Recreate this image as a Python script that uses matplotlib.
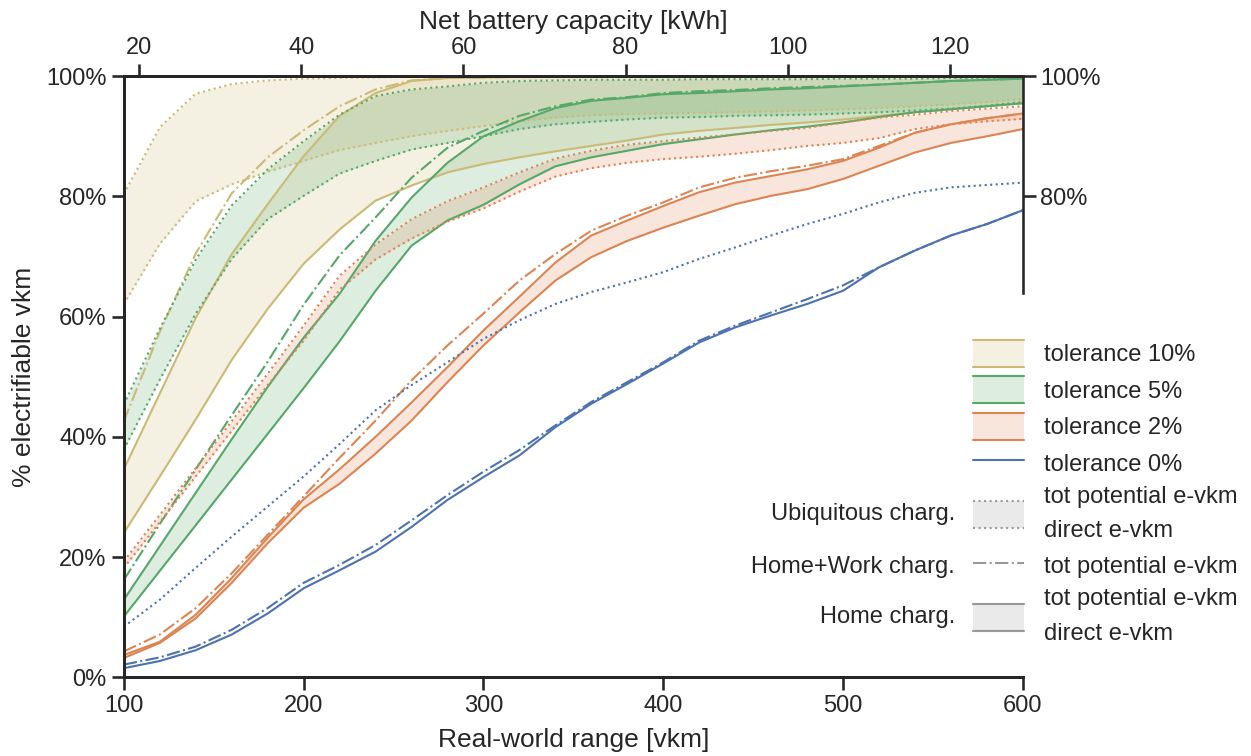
import matplotlib
matplotlib.use("Agg")
import matplotlib.pyplot as plt
import seaborn as sns
from matplotlib.ticker import PercentFormatter
from matplotlib.legend_handler import HandlerBase
from matplotlib.patches import Rectangle
from matplotlib.lines import Line2D

sns.set_theme(context="talk", style="ticks")
plt.rcParams["font.family"] = ["Liberation Sans", "DejaVu Sans"]

# --- data: share of electrifiable vkm [%] vs real-world range [vkm] ---
range_vkm = [100, 120, 140, 160, 180, 200, 220, 240, 260, 280, 300, 320, 340,
             360, 380, 400, 420, 440, 460, 480, 500, 520, 540, 560, 580, 600]

# top axis: net battery capacity equivalent of the range axis limits
battery_kwh_lim = (18.1, 129.0)
battery_ticks = [20, 40, 60, 80, 100, 120]

# tolerance 10%
ubiq_tot_10 = [80.4, 91.5, 97.1, 98.7, 99.3, 99.6, 99.7, 99.8, 99.9, 99.9, 99.9, 100, 100,
               100, 100, 100, 100, 100, 100, 100, 100, 100, 100, 100, 100, 100]
ubiq_dir_10 = [62.1, 72.1, 79.2, 82.0, 84.1, 85.9, 87.7, 88.9, 90.0, 90.9, 91.7, 92.5, 93.1,
               93.5, 93.7, 93.8, 93.9, 94.0, 94.1, 94.3, 94.5, 94.7, 95.0, 95.3, 95.7, 96.2]
hw_tot_10 = [42.6, 57.5, 70.5, 80.5, 86.5, 91.0, 95.0, 97.8, 99.3, 99.7, 99.8, 99.9, 99.9,
             100, 100, 100, 100, 100, 100, 100, 100, 100, 100, 100, 100, 100]
home_tot_10 = [34.6, 47.2, 59.8, 70.4, 78.7, 86.7, 93.4, 97.2, 99.2, 99.7, 99.8, 99.9, 99.9,
               100, 100, 100, 100, 100, 100, 100, 100, 100, 100, 100, 100, 100]
home_dir_10 = [24.0, 33.4, 42.9, 52.8, 61.3, 68.8, 74.5, 79.3, 81.8, 84.0, 85.4, 86.5, 87.5,
               88.4, 89.3, 90.3, 90.9, 91.4, 91.9, 92.3, 92.8, 93.4, 94.0, 94.5, 95.0, 95.5]

# tolerance 5%
ubiq_tot_5 = [45.4, 58.0, 69.5, 78.5, 84.5, 89.2, 93.6, 96.7, 97.8, 98.3, 98.9, 99.2, 99.3,
              99.4, 99.4, 99.4, 99.5, 99.5, 99.5, 99.5, 99.6, 99.6, 99.6, 99.7, 99.7, 99.7]
ubiq_dir_5 = [37.9, 49.5, 60.5, 69.6, 76.2, 80.1, 83.8, 85.9, 87.8, 88.9, 90.0, 91.2, 92.0,
              92.4, 92.8, 93.1, 93.2, 93.4, 93.5, 93.6, 93.8, 94.0, 94.3, 94.6, 95.1, 95.7]
hw_tot_5 = [16.2, 25.5, 34.6, 43.6, 52.5, 62.0, 70.2, 76.5, 83.1, 88.1, 90.9, 93.4, 95.0,
            96.1, 96.5, 97.2, 97.5, 97.7, 98.0, 98.2, 98.4, 98.6, 98.9, 99.2, 99.4, 99.6]
home_tot_5 = [12.9, 21.8, 30.7, 39.6, 48.3, 56.5, 63.8, 72.6, 79.8, 85.6, 90.0, 92.5, 94.7,
              95.9, 96.4, 97.0, 97.2, 97.5, 97.8, 98.0, 98.3, 98.6, 98.9, 99.2, 99.4, 99.6]
home_dir_5 = [10.1, 17.7, 25.3, 32.9, 40.5, 48.1, 55.9, 64.3, 71.8, 76.0, 78.6, 82.0, 85.0,
              86.5, 87.6, 88.7, 89.5, 90.3, 91.0, 91.6, 92.3, 93.2, 94.0, 94.5, 95.0, 95.5]

# tolerance 2%
ubiq_tot_2 = [19.3, 27.0, 34.8, 42.6, 50.5, 58.5, 66.8, 72.0, 76.2, 79.2, 81.5, 84.0, 86.3,
              87.6, 88.6, 89.2, 89.8, 90.3, 90.9, 91.4, 92.3, 93.1, 93.6, 94.2, 94.6, 95.0]
ubiq_dir_2 = [18.2, 25.8, 33.4, 41.0, 48.6, 56.0, 64.5, 69.5, 73.0, 75.8, 78.0, 80.8, 83.3,
              84.7, 85.6, 86.2, 86.6, 87.1, 87.7, 88.4, 88.9, 89.7, 91.2, 92.0, 92.5, 92.9]
hw_tot_2 = [4.3, 7.1, 11.5, 17.3, 23.7, 30.1, 36.5, 42.7, 49.4, 55.2, 60.5, 66.0, 70.4,
            74.3, 76.8, 79.0, 81.5, 83.1, 84.2, 85.1, 86.2, 88.4, 90.6, 92.0, 93.0, 93.8]
home_tot_2 = [3.7, 5.9, 10.4, 16.5, 23.2, 29.6, 34.6, 40.0, 45.7, 51.6, 57.7, 63.3, 69.0,
              73.5, 76.0, 78.4, 80.7, 82.3, 83.4, 84.5, 85.9, 88.1, 90.6, 92.0, 93.0, 93.8]
home_dir_2 = [3.2, 5.7, 9.8, 15.7, 22.3, 28.2, 32.2, 37.2, 42.7, 49.1, 55.2, 60.7, 66.0,
              69.9, 72.6, 74.8, 76.8, 78.7, 80.1, 81.2, 82.9, 85.1, 87.3, 88.9, 90.0, 91.2]

# tolerance 0% (tot = direct)
ubiq_0 = [8.4, 12.9, 18.2, 23.4, 28.4, 33.4, 38.8, 44.4, 48.6, 52.4, 56.3, 59.4, 62.1,
          64.1, 65.7, 67.4, 69.6, 71.5, 73.5, 75.4, 77.1, 79.0, 80.6, 81.5, 81.9, 82.3]
hw_0 = [2.1, 3.3, 5.1, 7.9, 11.5, 15.7, 18.7, 22.0, 26.1, 30.3, 34.2, 37.8, 41.9,
        45.8, 49.1, 52.4, 56.0, 58.5, 60.7, 62.9, 65.2, 68.2, 71.0, 73.5, 75.4, 77.7]
home_0 = [1.5, 2.7, 4.5, 7.1, 10.6, 14.8, 17.8, 20.9, 25.0, 29.5, 33.3, 36.9, 41.6,
          45.5, 48.8, 52.2, 55.7, 58.2, 60.2, 62.1, 64.3, 68.2, 71.0, 73.5, 75.4, 77.7]

TAN, GREEN, ORANGE, BLUE = "#CCB974", "#55A868", "#DD8452", "#4C72B0"
GREY = "#999999"
LW = 1.5

bands = [
    ("tolerance 10%", TAN, home_tot_10, home_dir_10, hw_tot_10, ubiq_tot_10, ubiq_dir_10),
    ("tolerance 5%", GREEN, home_tot_5, home_dir_5, hw_tot_5, ubiq_tot_5, ubiq_dir_5),
    ("tolerance 2%", ORANGE, home_tot_2, home_dir_2, hw_tot_2, ubiq_tot_2, ubiq_dir_2),
]


class Band:
    def __init__(self, color, ls):
        self.color = color
        self.ls = ls


class BandHandler(HandlerBase):
    # light filled box with a line on its upper and lower edge
    def create_artists(self, legend, orig_handle, xdescent, ydescent,
                       width, height, fontsize, trans):
        x0, y0 = -xdescent, -ydescent
        rect = Rectangle((x0, y0), width, height, facecolor=orig_handle.color,
                         alpha=0.2, lw=0, transform=trans)
        edges = [Line2D([x0, x0 + width], [y, y], color=orig_handle.color,
                        ls=orig_handle.ls, lw=LW, transform=trans)
                 for y in (y0, y0 + height)]
        return [rect] + edges


fig = plt.figure(figsize=(12.51, 7.56), dpi=100)
ax = fig.add_axes([0.0990, 0.1042, 0.7186, 0.7950])

for label, color, home_tot, home_dir, hw_tot, ubiq_tot, ubiq_dir in bands:
    ax.fill_between(range_vkm, home_dir, home_tot, color=color, alpha=0.2, lw=0)
    ax.fill_between(range_vkm, ubiq_dir, ubiq_tot, color=color, alpha=0.2, lw=0)
    ax.plot(range_vkm, home_tot, color=color, lw=LW)
    ax.plot(range_vkm, home_dir, color=color, lw=LW)
    ax.plot(range_vkm, hw_tot, color=color, lw=LW, ls="-.")
    ax.plot(range_vkm, ubiq_tot, color=color, lw=LW, ls=":")
    ax.plot(range_vkm, ubiq_dir, color=color, lw=LW, ls=":")

ax.plot(range_vkm, home_0, color=BLUE, lw=LW)
ax.plot(range_vkm, hw_0, color=BLUE, lw=LW, ls="-.")
ax.plot(range_vkm, ubiq_0, color=BLUE, lw=LW, ls=":")

ax.set_xlim(100, 600)
ax.set_ylim(0, 100)
ax.set_xticks([100, 200, 300, 400, 500, 600])
ax.yaxis.set_major_formatter(PercentFormatter(100, decimals=0))
ax.tick_params(labelsize=17)
ax.set_xlabel("Real-world range [vkm]", fontsize=19, labelpad=8)
ax.set_ylabel("% electrifiable vkm", fontsize=19, labelpad=7)
ax.spines["right"].set_visible(False)

ax_top = ax.twiny()
ax_top.set_xlim(*battery_kwh_lim)
ax_top.set_xticks(battery_ticks)
ax_top.tick_params(labelsize=17)
ax_top.set_xlabel("Net battery capacity [kWh]", fontsize=19, labelpad=6)
ax_top.spines["right"].set_visible(False)

ax_right = ax.twinx()
ax_right.set_ylim(0, 100)
ax_right.set_yticks([80, 100])
ax_right.yaxis.set_major_formatter(PercentFormatter(100, decimals=0))
ax_right.tick_params(labelsize=17)
ax_right.spines["right"].set_bounds(64, 100)

handles = [Band(TAN, "-"), Band(GREEN, "-"), Band(ORANGE, "-"),
           Line2D([], [], color=BLUE, lw=LW),
           Band(GREY, ":"),
           Line2D([], [], color=GREY, lw=LW, ls="-."),
           Band(GREY, "-")]
labels = ["tolerance 10%", "tolerance 5%", "tolerance 2%", "tolerance 0%",
          "tot potential e-vkm\ndirect e-vkm",
          "tot potential e-vkm",
          "tot potential e-vkm\ndirect e-vkm"]
leg = ax.legend(handles, labels, handler_map={Band: BandHandler()},
                loc="upper left", bbox_to_anchor=(973 / 1251, 416 / 756),
                bbox_transform=fig.transFigure, frameon=False,
                borderpad=0, borderaxespad=0, handlelength=2.18,
                handleheight=1.38, handletextpad=0.83, labelspacing=0.4,
                fontsize=17)
for t in leg.get_texts():
    t.set_linespacing(1.75)

# charging scenario names to the left of their legend entries
fig.canvas.draw()
renderer = fig.canvas.get_renderer()
fig_h = fig.bbox.height
for text, name in zip(leg.get_texts()[4:],
                      ["Ubiquitous charg.", "Home+Work charg.", "Home charg."]):
    bb = text.get_window_extent(renderer)
    fig.text(955 / 1251, (bb.y0 + bb.y1) / 2 / fig_h, name,
             ha="right", va="center", fontsize=17)

fig.savefig("out.png", dpi=100)
